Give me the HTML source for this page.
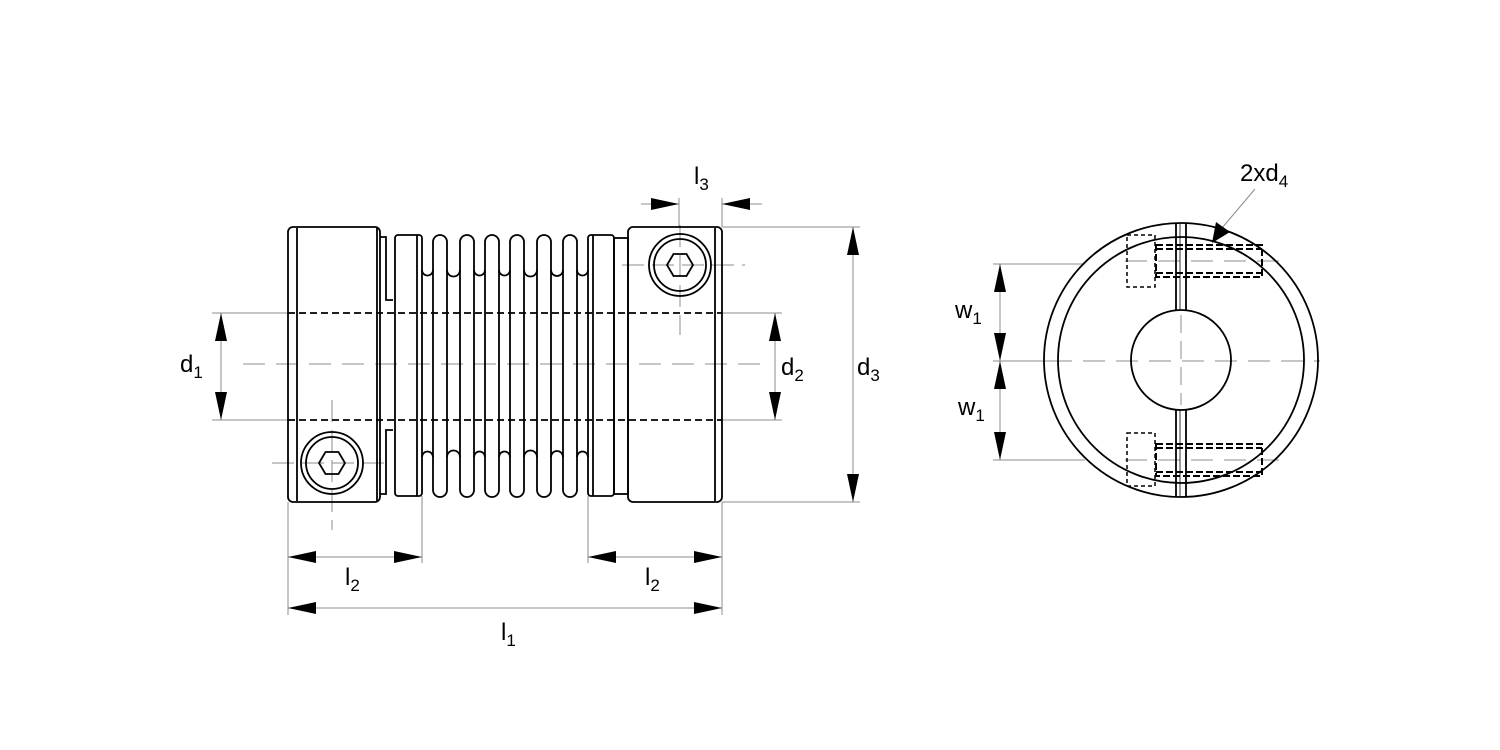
<!DOCTYPE html>
<html><head><meta charset="utf-8"><style>
html,body{margin:0;padding:0;background:#fff;}
svg{display:block;}
text{font-family:"Liberation Sans",Arial,sans-serif;fill:#000;}
</style></head><body>
<svg width="1500" height="750" viewBox="0 0 1500 750" xmlns="http://www.w3.org/2000/svg">
<defs>
<marker id="a" viewBox="0 0 28 12" refX="28" refY="6" markerWidth="28" markerHeight="12" markerUnits="userSpaceOnUse" orient="auto-start-reverse"><path d="M0,0 L28,6 L0,12 Z" fill="#000"/></marker>
</defs>
<rect width="1500" height="750" fill="#fff"/>

<g stroke="#8c8c8c" stroke-width="1" fill="none">
<line x1="243" y1="364" x2="760" y2="364" stroke-dasharray="22,11"/>
<line x1="680" y1="225" x2="680" y2="335" stroke-dasharray="22,8"/>
<line x1="622" y1="265" x2="745" y2="265" stroke-dasharray="22,8"/>
<line x1="332" y1="400" x2="332" y2="530" stroke-dasharray="22,8"/>
<line x1="272" y1="463" x2="385" y2="463" stroke-dasharray="22,8"/>
<line x1="212" y1="313" x2="288" y2="313"/>
<line x1="212" y1="420" x2="288" y2="420"/>
<line x1="722" y1="313" x2="782" y2="313"/>
<line x1="722" y1="420" x2="782" y2="420"/>
<line x1="722" y1="227" x2="860" y2="227"/>
<line x1="722" y1="502" x2="860" y2="502"/>
<line x1="679" y1="198" x2="679" y2="227"/>
<line x1="722" y1="198" x2="722" y2="227"/>
<line x1="288" y1="502" x2="288" y2="615"/>
<line x1="422" y1="496" x2="422" y2="563"/>
<line x1="588" y1="496" x2="588" y2="563"/>
<line x1="722" y1="502" x2="722" y2="615"/>
<line x1="221" y1="313" x2="221" y2="420" marker-start="url(#a)" marker-end="url(#a)"/>
<line x1="775" y1="313" x2="775" y2="420" marker-start="url(#a)" marker-end="url(#a)"/>
<line x1="853" y1="227" x2="853" y2="502" marker-start="url(#a)" marker-end="url(#a)"/>
<line x1="288" y1="557" x2="422" y2="557" marker-start="url(#a)" marker-end="url(#a)"/>
<line x1="588" y1="557" x2="722" y2="557" marker-start="url(#a)" marker-end="url(#a)"/>
<line x1="288" y1="608" x2="722" y2="608" marker-start="url(#a)" marker-end="url(#a)"/>
<line x1="641" y1="204" x2="679" y2="204" marker-end="url(#a)"/>
<line x1="762" y1="204" x2="722" y2="204" marker-end="url(#a)"/>
<line x1="993" y1="264" x2="1085" y2="264"/>
<line x1="993" y1="460" x2="1085" y2="460"/>
<line x1="993" y1="361" x2="1050" y2="361"/>
<line x1="1000" y1="264" x2="1000" y2="361" marker-start="url(#a)" marker-end="url(#a)"/>
<line x1="1000" y1="361" x2="1000" y2="460" marker-start="url(#a)" marker-end="url(#a)"/>
<line x1="1050" y1="361" x2="1320" y2="361" stroke-dasharray="22,11"/>
<line x1="1181" y1="315" x2="1181" y2="405" stroke-dasharray="18,8"/>
<line x1="1125" y1="261" x2="1280" y2="261" stroke-dasharray="22,11"/>
<line x1="1125" y1="460" x2="1280" y2="460" stroke-dasharray="22,11"/>
<line x1="1255" y1="189" x2="1222" y2="228"/>
</g>
<path d="M1212,243 L1216,222 L1230,232 Z" fill="#000"/>

<g stroke="#000" stroke-width="1.8" fill="none">
<rect x="288" y="227" width="92" height="275" rx="5"/>
<line x1="297" y1="228" x2="297" y2="501"/>
<line x1="377" y1="228" x2="377" y2="501"/>
<path d="M380,237 H386 V300 H393 M380,494 H386 V430 H393"/>
<rect x="395" y="235" width="27" height="261" rx="3"/>
<line x1="417" y1="235" x2="417" y2="496"/>
<g>
<rect x="433" y="235" width="14" height="262" rx="7"/>
<rect x="460" y="235" width="14" height="262" rx="7"/>
<rect x="485" y="235" width="14" height="262" rx="7"/>
<rect x="510" y="235" width="14" height="262" rx="7"/>
<rect x="537" y="235" width="14" height="262" rx="7"/>
<rect x="563" y="235" width="14" height="262" rx="7"/>
<path d="M422,270 A5.5,5.5 0 0 0 433,270 M447,270 A6.5,6.5 0 0 0 460,270 M474,270 A5.5,5.5 0 0 0 485,270 M499,270 A5.5,5.5 0 0 0 510,270 M524,270 A6.5,6.5 0 0 0 537,270 M551,270 A6,6 0 0 0 563,270 M577,270 A5.5,5.5 0 0 0 588,270"/>
<path d="M422,457 A5.5,5.5 0 0 1 433,457 M447,457 A6.5,6.5 0 0 1 460,457 M474,457 A5.5,5.5 0 0 1 485,457 M499,457 A5.5,5.5 0 0 1 510,457 M524,457 A6.5,6.5 0 0 1 537,457 M551,457 A6,6 0 0 1 563,457 M577,457 A5.5,5.5 0 0 1 588,457"/>
</g>
<rect x="588" y="235" width="26" height="261" rx="3"/>
<line x1="593" y1="235" x2="593" y2="496"/>
<rect x="614" y="238" width="14" height="256"/>
<rect x="628" y="227" width="94" height="275" rx="5"/>
<line x1="715" y1="228" x2="715" y2="501"/>
<circle cx="680" cy="265" r="31"/>
<circle cx="680" cy="265" r="26"/>
<polygon points="667,265 673.5,254 686.5,254 693,265 686.5,276 673.5,276"/>
<circle cx="332" cy="463" r="31"/>
<circle cx="332" cy="463" r="26"/>
<polygon points="319,463 325.5,452 338.5,452 345,463 338.5,474 325.5,474"/>
</g>
<g stroke="#000" stroke-width="1.8" stroke-dasharray="7,4">
<line x1="288" y1="313" x2="722" y2="313"/>
<line x1="288" y1="420" x2="722" y2="420"/>
</g>

<g stroke="#000" stroke-width="1.8" fill="none">
<circle cx="1181" cy="360" r="137"/>
<circle cx="1181" cy="360" r="123"/>
<circle cx="1181" cy="360" r="50"/>
<line x1="1176" y1="224" x2="1176" y2="310"/>
<line x1="1186" y1="224" x2="1186" y2="310"/>
<line x1="1176" y1="410" x2="1176" y2="497"/>
<line x1="1186" y1="410" x2="1186" y2="497"/>
</g>
<g stroke="#000" stroke-width="0.8"><line x1="1180" y1="224" x2="1180" y2="310"/><line x1="1180" y1="410" x2="1180" y2="497"/></g>
<g stroke="#000" stroke-width="1.5" fill="none" stroke-dasharray="4,3">
<rect x="1127" y="235" width="28" height="52"/>
<rect x="1127" y="433" width="28" height="53"/>
</g>
<g stroke="#000" stroke-width="2" fill="none" stroke-dasharray="7,3">
<rect x="1156" y="245" width="106" height="32"/>
<line x1="1156" y1="249" x2="1262" y2="249"/>
<line x1="1156" y1="273" x2="1262" y2="273"/>
<rect x="1156" y="444" width="106" height="32"/>
<line x1="1156" y1="448" x2="1262" y2="448"/>
<line x1="1156" y1="472" x2="1262" y2="472"/>
</g>

<g font-size="24">
<text x="180" y="372">d<tspan font-size="17" dy="6">1</tspan></text>
<text x="781" y="375">d<tspan font-size="17" dy="6">2</tspan></text>
<text x="857" y="375">d<tspan font-size="17" dy="6">3</tspan></text>
<text x="694" y="184">l<tspan font-size="17" dy="6">3</tspan></text>
<text x="345" y="585">l<tspan font-size="17" dy="6">2</tspan></text>
<text x="645" y="585">l<tspan font-size="17" dy="6">2</tspan></text>
<text x="501" y="640">l<tspan font-size="17" dy="6">1</tspan></text>
<text x="955" y="318">w<tspan font-size="17" dy="6">1</tspan></text>
<text x="958" y="415">w<tspan font-size="17" dy="6">1</tspan></text>
<text x="1240" y="181">2xd<tspan font-size="17" dy="6">4</tspan></text>
</g>
</svg>
</body></html>
